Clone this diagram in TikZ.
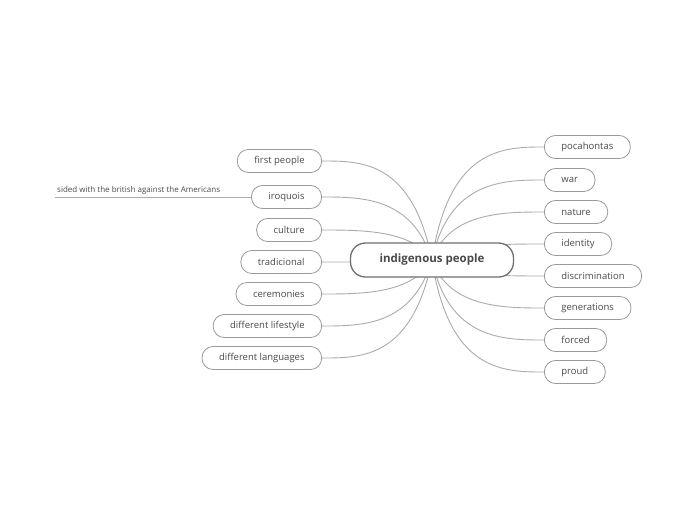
\documentclass[tikz,border=0pt]{standalone}
\usepackage{fontspec}
\setmainfont{Open Sans}
\usepackage{xcolor}
\usetikzlibrary{calc,backgrounds}

\definecolor{linkgray}{HTML}{ABABAB}
\definecolor{boxgray}{HTML}{9A9A9A}
\definecolor{rootgray}{HTML}{707070}
\definecolor{txtgray}{HTML}{4A4A4A}

\begin{document}
\begin{tikzpicture}[x=1pt, y=-1pt,
    root/.style={draw=rootgray, line width=1.3pt, fill=white, rounded corners=15pt,
                 minimum width=163pt, minimum height=34pt,
                 font=\fontsize{11.5}{13}\selectfont\bfseries, text=txtgray},
    topic/.style={draw=boxgray, line width=0.8pt, fill=white, rounded corners=11pt,
                  minimum height=23pt, inner xsep=17pt,
                  font=\fontsize{9.5}{11}\selectfont, text=txtgray},
    note/.style={inner sep=2pt, font=\fontsize{8}{9}\selectfont, text=txtgray},
    link/.style={draw=linkgray, line width=0.9pt}
  ]
  \useasboundingbox (0,0) rectangle (697,520);

  \node[root] (root) at (432,260) {indigenous people};
  \coordinate (rl) at ($(root.center)+(-20,0)$);
  \coordinate (rr) at ($(root.center)+(17,0)$);

  % left side
  \node[topic, anchor=east] (first)  at (322,161) {first people};
  \node[topic, anchor=east] (iroq)   at (322,197) {iroquois};
  \node[topic, anchor=east] (cult)   at (322,230) {culture};
  \node[topic, anchor=east] (trad)   at (322,262) {tradicional};
  \node[topic, anchor=east] (cerem)  at (322,294) {ceremonies};
  \node[topic, anchor=east] (lifest) at (322,326) {different lifestyle};
  \node[topic, anchor=east] (lang)   at (322,358) {different languages};
  \node[note, anchor=south west] (sided) at (55,197) {sided with the british against the Americans};

  % right side
  \node[topic, anchor=west] (pocah)  at (544,147) {pocahontas};
  \node[topic, anchor=west] (war)    at (544,180) {war};
  \node[topic, anchor=west] (nature) at (544,212) {nature};
  \node[topic, anchor=west] (ident)  at (544,244) {identity};
  \node[topic, anchor=west] (discr)  at (544,276) {discrimination};
  \node[topic, anchor=west] (gener)  at (544,308) {generations};
  \node[topic, anchor=west] (forced) at (544,340) {forced};
  \node[topic, anchor=west] (proud)  at (544,372) {proud};

  \begin{scope}[on background layer]
    \foreach \n in {first,iroq,cult,trad,cerem,lifest,lang}
      \draw[link] (root.center) .. controls (rl |- \n.east) and ($(\n.east)+(40,0)$) .. (\n.east);
    \foreach \n in {pocah,war,nature,ident,discr,gener,forced,proud}
      \draw[link] (root.center) .. controls (rr |- \n.west) and ($(\n.west)+(-40,0)$) .. (\n.west);
    \draw[link] (iroq.west) -- (sided.south west);
  \end{scope}
\end{tikzpicture}
\end{document}
